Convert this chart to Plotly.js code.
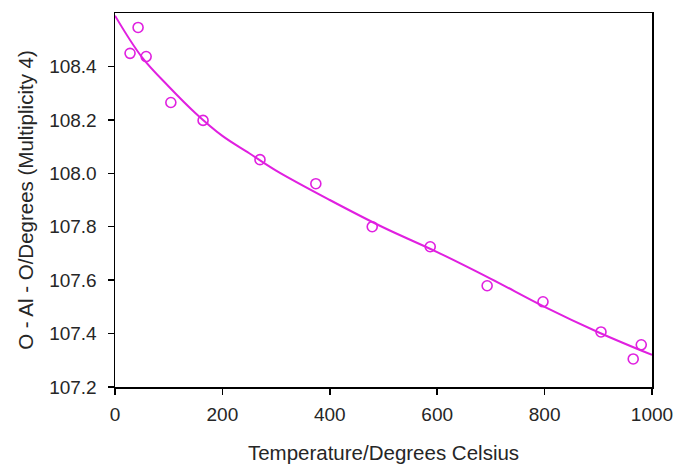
<!DOCTYPE html>
<html>
<head>
<meta charset="utf-8">
<script src="https://cdn.plot.ly/plotly-3.0.1.min.js"></script>
<style>html,body{margin:0;padding:0;background:#fff;}#chart{width:679px;height:468px;}</style>
</head>
<body>
<div id="chart"></div>
<script>
// Measured data points
const tempPoints = [28, 43, 58, 104, 164, 270, 374, 479, 587, 693, 797, 905, 965, 980];
const anglePoints = [108.449, 108.546, 108.437, 108.265, 108.198, 108.051, 107.961, 107.800, 107.725, 107.579, 107.519, 107.406, 107.305, 107.358];

// Fitted curve
const tempCurve = [0, 50, 100, 150, 200, 250, 300, 400, 500, 600, 700, 800, 900, 1000];
const angleCurve = [108.59, 108.435, 108.325, 108.225, 108.14, 108.075, 108.01, 107.90, 107.797, 107.705, 107.605, 107.50, 107.405, 107.32];

const xTicks = [0, 200, 400, 600, 800, 1000];
const yTicks = [107.2, 107.4, 107.6, 107.8, 108.0, 108.2, 108.4];
const yTickText = ['107.2', '107.4', '107.6', '107.8', '108.0', '108.2', '108.4'];

const magenta = '#e020e0';

const traces = [
  {
    x: tempCurve, y: angleCurve, mode: 'lines', type: 'scatter',
    line: {color: magenta, width: 2, shape: 'spline', smoothing: 1},
    hoverinfo: 'skip', showlegend: false
  },
  {
    x: tempPoints, y: anglePoints, mode: 'markers', type: 'scatter',
    marker: {symbol: 'circle-open', size: 10, color: magenta, line: {color: magenta, width: 1.6}},
    showlegend: false
  }
];

const fam = 'Liberation Sans, Arial, sans-serif';
const txt = '#262626';

const layout = {
  width: 679, height: 468,
  margin: {l: 115, r: 27, t: 13, b: 81},
  paper_bgcolor: '#fff', plot_bgcolor: '#fff',
  font: {family: fam, color: txt, size: 19},
  showlegend: false,
  xaxis: {
    range: [0, 1000], tickvals: xTicks, ticktext: xTicks.map(String),
    ticks: 'outside', ticklen: 6, tickwidth: 1.5, tickcolor: '#000',
    ticklabelstandoff: 4,
    showline: true, linecolor: '#000', linewidth: 1.5, mirror: true,
    showgrid: false, zeroline: false,
    tickfont: {family: fam, size: 19, color: txt},
    title: {text: 'Temperature/Degrees Celsius', font: {family: fam, size: 20.5, color: txt}, standoff: 21}
  },
  yaxis: {
    range: [107.2, 108.6], tickvals: yTicks, ticktext: yTickText,
    ticks: 'outside', ticklen: 6, tickwidth: 1.5, tickcolor: '#000',
    ticklabelstandoff: 7,
    showline: true, linecolor: '#000', linewidth: 1.5, mirror: true,
    showgrid: false, zeroline: false,
    tickfont: {family: fam, size: 19, color: txt},
    title: {text: 'O - Al - O/Degrees (Multiplicity 4)', font: {family: fam, size: 20.5, color: txt}, standoff: 10}
  }
};

Plotly.newPlot('chart', traces, layout, {displayModeBar: false, staticPlot: true});
</script>
</body>
</html>
